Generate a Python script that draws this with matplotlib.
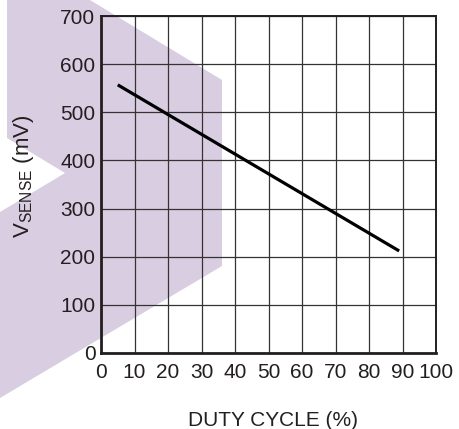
""" V_SENSE vs duty cycle chart """
import matplotlib
matplotlib.use('Agg')
import matplotlib.pyplot as plt
from matplotlib.patches import Polygon

# data
duty = [5, 89]
vsense = [557, 212]
xticks = list(range(0, 101, 10))
yticks = list(range(0, 701, 100))

W, H = 459, 429
ink = '#231f20'

plt.rcParams['font.family'] = ['Liberation Sans', 'DejaVu Sans']
plt.rcParams['mathtext.default'] = 'regular'

fig = plt.figure(figsize=(W / 100, H / 100), dpi=100, facecolor='white')

# purple watermark behind the chart (pixel coords, origin at top left)
shape_px = [(7, 0), (90, 0), (222, 80), (222, 266), (0, 398),
            (0, 212), (65, 173), (7, 138)]
shape = [(x / W, 1 - y / H) for x, y in shape_px]
fig.patches.append(Polygon(shape, closed=True, transform=fig.transFigure,
                           facecolor='#d9cee1', edgecolor='none', zorder=-1))

ax = fig.add_axes([101 / W, 1 - 353 / H, 335 / W, 337 / H])
ax.set_facecolor('none')

ax.plot(duty, vsense, color='black', lw=2.3, solid_capstyle='butt', zorder=3)

ax.set_xlim(0, 100)
ax.set_ylim(0, 700)
ax.set_xticks(xticks)
ax.set_yticks(yticks)
ax.grid(True, color='#333333', lw=0.9)
ax.set_axisbelow(True)
ax.tick_params(length=0, labelsize=15, colors=ink)
ax.tick_params(axis='x', pad=7)
ax.tick_params(axis='y', pad=4)

for s in ax.spines.values():
    s.set_color(ink)
    s.set_linewidth(1.4)
ax.spines['left'].set_linewidth(2)
ax.spines['bottom'].set_linewidth(2)

# axis titles placed by pixel position
fig.text(273 / W, 1 - 426 / H, 'DUTY CYCLE (%)', fontsize=15, color=ink,
         ha='center', va='baseline')
fig.text(24 / W, 1 - 176 / H, r'$V_{SENSE}$ (mV)', fontsize=16, color=ink,
         ha='center', va='center', rotation=90)

fig.savefig('out.png', dpi=100, facecolor='white')
